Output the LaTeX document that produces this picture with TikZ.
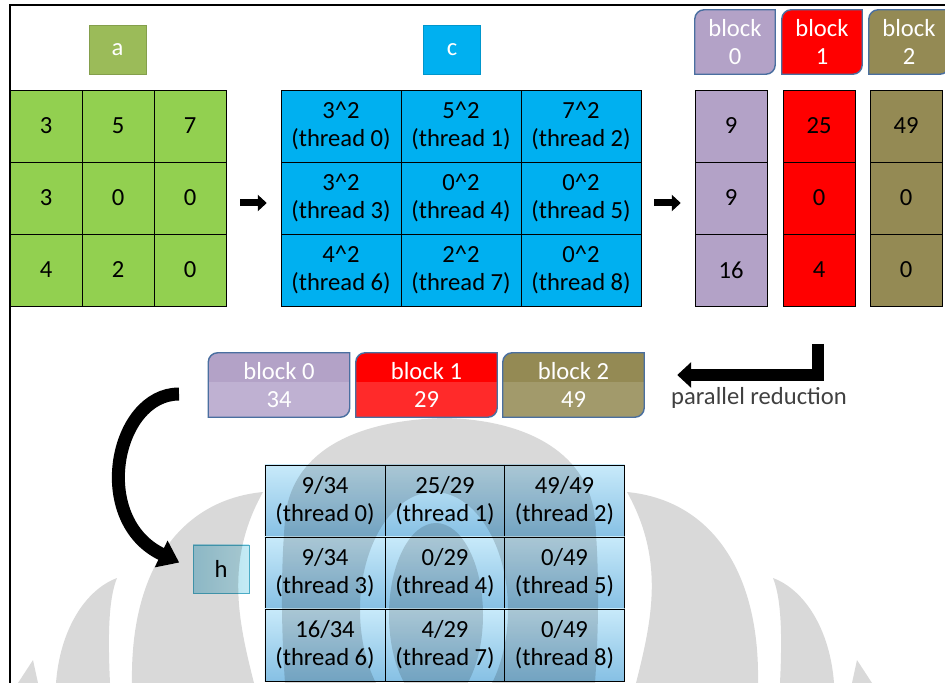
\documentclass[tikz,border=0pt]{standalone}
\usepackage{fontspec}
\setmainfont{Carlito}
\usetikzlibrary{arrows.meta, backgrounds}
\definecolor{agreen}{HTML}{92D050}
\definecolor{atagfill}{HTML}{9BBB59}
\definecolor{cblue}{HTML}{00B0F0}
\definecolor{bpurple}{HTML}{B3A2C7}
\definecolor{bpurplelt}{HTML}{BFB1D2}
\definecolor{bred}{HTML}{FF0000}
\definecolor{bredlt}{HTML}{FF2A2A}
\definecolor{bolive}{HTML}{948A54}
\definecolor{bolivelt}{HTML}{A29A6B}
\definecolor{blkline}{HTML}{4A6FA0}
\definecolor{hlight}{HTML}{C8EAFA}
\definecolor{hdark}{HTML}{86C0E4}
\definecolor{hboxdk}{HTML}{A5D8E8}
\definecolor{hboxlt}{HTML}{C5EBF5}
\definecolor{hboxline}{HTML}{4BACC6}
\definecolor{reducegray}{HTML}{404040}
\tikzset{diagpath/.style={insert path={(#1.south west) -- ([yshift=-8pt]#1.north west)
      arc[start angle=180, end angle=90, radius=8pt] -- (#1.north east)
      -- ([yshift=8pt]#1.south east) arc[start angle=0, end angle=-90, radius=8pt] -- cycle}}}

\begin{document}
\begin{tikzpicture}[x=0.03cm, y=0.03cm,
				txt/.style={font=\fontsize{21}{24}\selectfont, align=center, inner sep=0pt},
				gcell/.style={txt, draw=black, fill=agreen,
					minimum width=2.16cm, minimum height=2.16cm},
				ccell/.style={txt, draw=black, fill=cblue,
					minimum width=3.6cm, minimum height=2.16cm},
				pcell/.style={gcell, fill=bpurple},
				rcell/.style={gcell, fill=bred},
				ocell/.style={gcell, fill=bolive},
				hcell/.style={txt, draw=black, top color=hlight, bottom color=hdark,
					minimum width=3.6cm, minimum height=2.16cm},
				tag/.style={txt, text=white, minimum width=1.7cm, minimum height=1.47cm},
				hdr/.style={txt, text=white, minimum width=2.4cm, minimum height=1.92cm},
				sumbox/.style={txt, text=white, minimum width=4.23cm, minimum height=1.92cm},
				smallarr/.style={line width=0.21cm, -{Triangle[length=0.27cm, width=0.48cm]}},
				bigarr/.style={line width=0.36cm, line join=miter, -{Triangle[length=0.42cm, width=0.75cm]}},
				curvarr/.style={line width=0.39cm, -{Triangle[length=0.6cm, width=0.85cm]}},
				wmark/.style={fill=black, fill opacity=0.15}
				]
				\useasboundingbox (0,0) rectangle (945,-683);
				\draw[line width=1.5pt] (945,-5) -- (10,-5) -- (10,-683);
				\node[tag, fill=atagfill, draw=atagfill!85!black] (atag) at (117.5,-49.5) {a};
				\node[tag, fill=cblue, draw=cblue!85!black] (ctag) at (452,-49.5) {c};
				% matrix a
				\node[gcell] (a11) at (46,-126)  {3};
				\node[gcell] (a12) at (118,-126) {5};
				\node[gcell] (a13) at (190,-126) {7};
				\node[gcell] (a21) at (46,-198)  {3};
				\node[gcell] (a22) at (118,-198) {0};
				\node[gcell] (a23) at (190,-198) {0};
				\node[gcell] (a31) at (46,-270)  {4};
				\node[gcell] (a32) at (118,-270) {2};
				\node[gcell] (a33) at (190,-270) {0};
				% matrix c
				\node[ccell] (c11) at (341,-126) {3\textasciicircum2\\(thread 0)};
				\node[ccell] (c12) at (461,-126) {5\textasciicircum2\\(thread 1)};
				\node[ccell] (c13) at (581,-126) {7\textasciicircum2\\(thread 2)};
				\node[ccell] (c21) at (341,-198) {3\textasciicircum2\\(thread 3)};
				\node[ccell] (c22) at (461,-198) {0\textasciicircum2\\(thread 4)};
				\node[ccell] (c23) at (581,-198) {0\textasciicircum2\\(thread 5)};
				\node[ccell] (c31) at (341,-270) {4\textasciicircum2\\(thread 6)};
				\node[ccell] (c32) at (461,-270) {2\textasciicircum2\\(thread 7)};
				\node[ccell] (c33) at (581,-270) {0\textasciicircum2\\(thread 8)};
				% per block columns
				\node[hdr] (bk0) at (735,-42) {block\\0};
				\node[hdr] (bk1) at (822,-42) {block\\1};
				\node[hdr] (bk2) at (909,-42) {block\\2};
				\node[pcell] (p1) at (731,-126) {9};
				\node[pcell] (p2) at (731,-198) {9};
				\node[pcell] (p3) at (731,-270) {16};
				\node[rcell] (r1) at (819,-126) {25};
				\node[rcell] (r2) at (819,-198) {0};
				\node[rcell] (r3) at (819,-270) {4};
				\node[ocell] (o1) at (906,-126) {49};
				\node[ocell] (o2) at (906,-198) {0};
				\node[ocell] (o3) at (906,-270) {0};
				% block sums
				\node[sumbox] (sm0) at (279,-385)   {block 0\\34};
				\node[sumbox] (sm1) at (426.5,-385) {block 1\\29};
				\node[sumbox] (sm2) at (573.5,-385) {block 2\\49};
				\node[txt, text=reducegray] (redlabel) at (759,-398) {parallel reduction};
				% matrix h
				\node[txt, draw=hboxline, left color=hboxdk, right color=hboxlt,
					minimum width=1.68cm, minimum height=1.44cm] (htag) at (221,-569) {h};
				\node[hcell] (h11) at (325,-501)   {9/34\\(thread 0)};
				\node[hcell] (h12) at (445,-501)   {25/29\\(thread 1)};
				\node[hcell] (h13) at (564.5,-501) {49/49\\(thread 2)};
				\node[hcell] (h21) at (325,-573)   {9/34\\(thread 3)};
				\node[hcell] (h22) at (445,-573)   {0/29\\(thread 4)};
				\node[hcell] (h23) at (564.5,-573) {0/49\\(thread 5)};
				\node[hcell] (h31) at (325,-645)   {16/34\\(thread 6)};
				\node[hcell] (h32) at (445,-645)   {4/29\\(thread 7)};
				\node[hcell] (h33) at (564.5,-645) {0/49\\(thread 8)};
				\begin{scope}[on background layer]
					\draw[blkline, line width=1.2pt, fill=bpurple, diagpath=bk0];
					\draw[blkline, line width=1.2pt, fill=bred, diagpath=bk1];
					\draw[blkline, line width=1.2pt, fill=bolive, diagpath=bk2];
					\foreach \n/\d/\l in {sm0/bpurple/bpurplelt, sm1/bred/bredlt, sm2/bolive/bolivelt} {
						\fill[\l, diagpath=\n];
						\begin{scope}
							\clip[diagpath=\n];
							\fill[\d] (\n.north west) rectangle ([yshift=0.09cm]\n.east);
						\end{scope}
						\draw[blkline, line width=1.2pt, diagpath=\n];
					}
				\end{scope}
				\coordinate (rtop) at (818,-344);
				\coordinate (cstart) at (179,-394);
				\draw[smallarr, shorten <=0.42cm, shorten >=0.42cm] ([yshift=-0.15cm]a23.east) -- ([yshift=-0.15cm]c21.west);
				\draw[smallarr, shorten <=0.39cm, shorten >=0.42cm] ([yshift=-0.15cm]c23.east) -- ([yshift=-0.15cm]p2.west);
				\draw[bigarr, shorten >=0.99cm] (rtop) |- ([yshift=0.3cm]sm2.east);
				\draw[curvarr, shorten >=0.45cm] (cstart) .. controls (115,-394) and (90,-520) .. (htag.west);
				% watermark
				\fill[wmark, even odd rule] (445,-418) .. controls (530,-420) and (590,-455) .. (595,-520)
					.. controls (600,-580) and (598,-640) .. (595,-683) -- (285,-683)
					.. controls (282,-640) and (280,-580) .. (285,-520)
					.. controls (290,-455) and (350,-420) .. (445,-418) -- cycle
					(434,-610) ellipse [x radius=74, y radius=118]
					(436,-615) ellipse [x radius=47, y radius=92];
				\fill[wmark] (627,-492) .. controls (710,-500) and (760,-570) .. (758,-683) -- (636,-683)
					.. controls (652,-620) and (665,-560) .. (627,-492) -- cycle;
				\fill[wmark] (263,-492) .. controls (180,-500) and (130,-570) .. (132,-683) -- (254,-683)
					.. controls (238,-620) and (225,-560) .. (263,-492) -- cycle;
				\fill[wmark] (773,-578) .. controls (805,-590) and (830,-630) .. (834,-683) -- (780,-683)
					.. controls (782,-640) and (782,-600) .. (773,-578) -- cycle;
				\fill[wmark] (117,-578) .. controls (85,-590) and (60,-630) .. (56,-683) -- (110,-683)
					.. controls (108,-640) and (108,-600) .. (117,-578) -- cycle;
				\fill[wmark] (857,-660) -- (872,-683) -- (852,-683) -- cycle;
				\fill[wmark] (33,-660) -- (38,-683) -- (18,-683) -- cycle;
			\end{tikzpicture}
\end{document}
